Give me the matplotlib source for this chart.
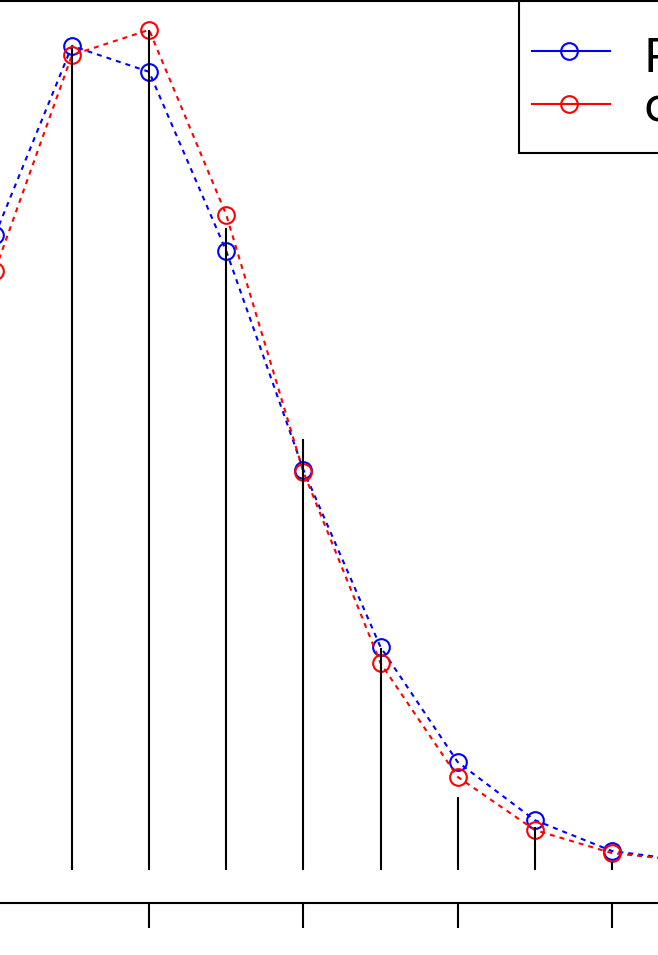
import matplotlib
matplotlib.use('Agg')
import matplotlib.pyplot as plt
from matplotlib.lines import Line2D
from matplotlib.patches import Rectangle

# ---- data ----
k_values = [2, 3, 4, 5, 6, 7, 8, 9, 10, 11]
poisson_vals = [0.154, 0.200, 0.1937, 0.1502, 0.0971, 0.0541, 0.0262, 0.0121, 0.0046, 0.0022]
fit_vals = [0.1454, 0.1978, 0.2039, 0.159, 0.0966, 0.0502, 0.0226, 0.0097, 0.0041, 0.0022]
stem_k = [1, 2, 3, 4, 5, 6, 7, 8, 9, 10, 11, 12]
stem_vals = [0.08, 0.14, 0.1995, 0.2039, 0.1558, 0.1046, 0.0539, 0.0177, 0.0104, 0.0019, 0.001, 0.0005]
x_ticks = [4, 6, 8, 10]
legend_labels = ['Poisson', 'computed']

W, H = 658, 955
fig = plt.figure(figsize=(W / 100, H / 100), dpi=100)
ax_top_px, ax_bot_px = 1.0, 903.3
ax = fig.add_axes([0, (H - ax_bot_px) / H, 1, (ax_bot_px - ax_top_px) / H])

ax.plot(k_values, poisson_vals, ls=(0, (2.4, 2.4)), color='blue', lw=1.5,
        marker='o', ms=12, mfc='none', mew=1.5, zorder=2)
ax.plot(k_values, fit_vals, ls=(0, (2.4, 2.4)), color='red', lw=1.5,
        marker='o', ms=12, mfc='none', mew=1.5, zorder=2.1)
ax.vlines(stem_k, 0, stem_vals, colors='black', lw=1.5, zorder=3)

ax.set_xlim(2.0666, 10.597)
ax.set_ylim(-0.00808, 0.2109)
for s in ['left', 'right']:
    ax.spines[s].set_visible(False)
for s in ['top', 'bottom']:
    ax.spines[s].set_linewidth(1.5)
ax.set_xticks(x_ticks)
ax.set_yticks([])
ax.tick_params(axis='x', direction='out', length=18, width=1.5,
               labelbottom=False, top=False)

# ---- legend (drawn in figure pixel coordinates) ----
def fx(px):
    return px / W

def fy(py):
    return 1 - py / H

rect = Rectangle((fx(519), fy(153)), fx(720) - fx(519), fy(1) - fy(153),
                 transform=fig.transFigure, facecolor='white', edgecolor='black',
                 lw=1.5, zorder=10)
fig.add_artist(rect)
for color, yrow, label, ybase in [('blue', 51, legend_labels[0], 72),
                                  ('red', 104, legend_labels[1], 121)]:
    fig.add_artist(Line2D([fx(532), fx(610)], [fy(yrow), fy(yrow)], color=color,
                          lw=1.5, transform=fig.transFigure, zorder=11))
    fig.add_artist(Line2D([fx(569)], [fy(yrow)], color=color, marker='o', ms=12,
                          mfc='none', mew=1.5, ls='none',
                          transform=fig.transFigure, zorder=11))
    fig.text(fx(643), fy(ybase), label, fontsize=33, va='baseline', ha='left',
             zorder=12, family='DejaVu Sans')

fig.savefig('out.png', dpi=100)
